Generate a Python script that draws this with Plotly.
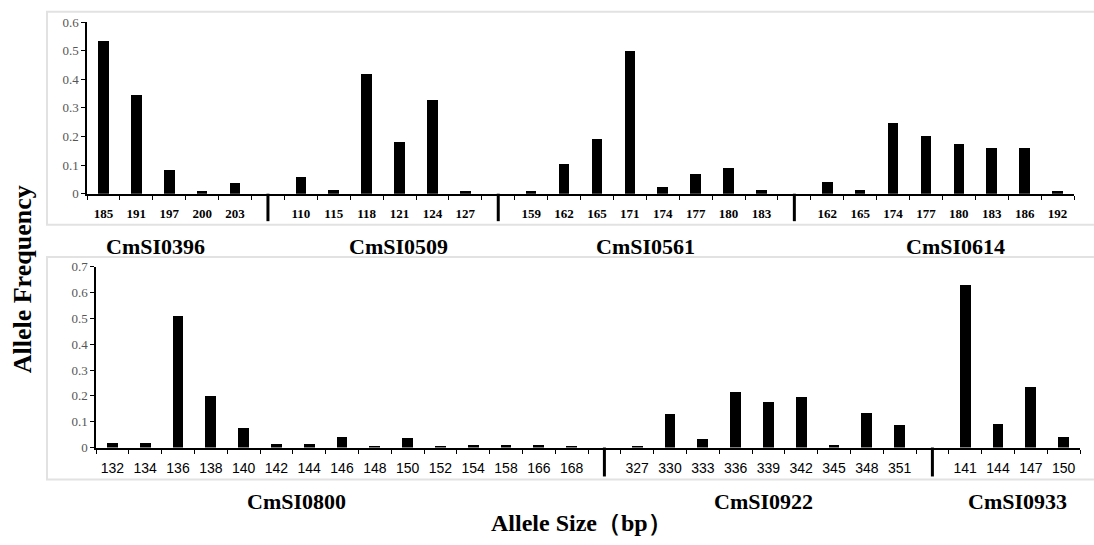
import plotly.graph_objects as go

# ---------------- data ----------------
loci_top = ["CmSI0396", "CmSI0509", "CmSI0561", "CmSI0614"]
sizes_0396 = ["185", "191", "197", "200", "203"]
freq_0396 = [0.532, 0.346, 0.084, 0.009, 0.036]
sizes_0509 = ["110", "115", "118", "121", "124", "127"]
freq_0509 = [0.057, 0.012, 0.419, 0.181, 0.327, 0.009]
sizes_0561 = ["159", "162", "165", "171", "174", "177", "180", "183"]
freq_0561 = [0.008, 0.105, 0.192, 0.498, 0.024, 0.069, 0.091, 0.012]
sizes_0614 = ["162", "165", "174", "177", "180", "183", "186", "192"]
freq_0614 = [0.042, 0.012, 0.247, 0.200, 0.174, 0.158, 0.160, 0.008]

loci_bottom = ["CmSI0800", "CmSI0922", "CmSI0933"]
sizes_0800 = ["132", "134", "136", "138", "140", "142", "144", "146", "148",
              "150", "152", "154", "158", "166", "168"]
freq_0800 = [0.020, 0.019, 0.511, 0.199, 0.076, 0.014, 0.014, 0.044, 0.008,
             0.038, 0.009, 0.010, 0.013, 0.010, 0.008]
sizes_0922 = ["327", "330", "333", "336", "339", "342", "345", "348", "351"]
freq_0922 = [0.006, 0.131, 0.034, 0.215, 0.177, 0.197, 0.010, 0.136, 0.088]
sizes_0933 = ["141", "144", "147", "150"]
freq_0933 = [0.629, 0.091, 0.235, 0.041]

y_title = "Allele Frequency"
x_title = "Allele Size（bp）"

W, H = 1094, 545
SERIF = "Liberation Serif, Times New Roman, serif"
SANS = "Liberation Sans, Arial, sans-serif"


def build(groups):
    """Lay groups out on one slot axis with one empty slot between groups."""
    xs, ys, tv, tt, seps = [], [], [], [], []
    pos = 0
    for gi, (sizes, freqs) in enumerate(groups):
        if gi > 0:
            seps.append(pos)
            pos += 1
        for s, f in zip(sizes, freqs):
            xs.append(pos)
            ys.append(f)
            tv.append(pos)
            tt.append(s)
            pos += 1
    return xs, ys, tv, tt, seps, pos


top = build([(sizes_0396, freq_0396), (sizes_0509, freq_0509),
             (sizes_0561, freq_0561), (sizes_0614, freq_0614)])
bot = build([(sizes_0800, freq_0800), (sizes_0922, freq_0922),
             (sizes_0933, freq_0933)])

fig = go.Figure()
fig.add_trace(go.Bar(x=top[0], y=top[1], width=0.32, marker=dict(color="black", line=dict(width=0)),
                     xaxis="x", yaxis="y", showlegend=False))
fig.add_trace(go.Bar(x=bot[0], y=bot[1], width=0.33, marker=dict(color="black", line=dict(width=0)),
                     xaxis="x2", yaxis="y2", showlegend=False))


def px_x(p):
    return p / W


def px_y(p):
    return 1 - p / H


def xaxis_cfg(res, domain, font):
    n = res[5]
    return dict(
        domain=domain, range=[-0.5, n - 0.5], tickmode="array",
        tickvals=res[2], ticktext=res[3], ticks="outside", ticklen=7,
        tickcolor="rgba(0,0,0,0)", tickfont=font,
        showline=True, linecolor="black", linewidth=2, showgrid=False,
        zeroline=False, fixedrange=True,
        minor=dict(tickmode="array", tickvals=[k + 0.5 for k in range(-1, n)],
                   ticks="outside", ticklen=4, tickwidth=1, tickcolor="black"),
    )


def yaxis_cfg(domain, rng, anchor):
    return dict(
        domain=domain, range=rng, dtick=0.1, tick0=0, ticks="outside", ticklen=4,
        tickcolor="black", tickwidth=1, showline=True, linecolor="black",
        linewidth=1.5, showgrid=False, zeroline=False, anchor=anchor,
        tickfont=dict(family=SERIF, size=13, color="#555555"), fixedrange=True,
    )


fig.update_layout(
    width=W, height=H, margin=dict(l=0, r=0, t=0, b=0),
    paper_bgcolor="white", plot_bgcolor="white", bargap=0,
    xaxis=xaxis_cfg(top, [px_x(87), px_x(1074)],
                    dict(family=SERIF, size=13, color="black", weight="bold")) | dict(anchor="y"),
    yaxis=yaxis_cfg([px_y(192), px_y(15.5)], [0, 0.6], "x"),
    xaxis2=xaxis_cfg(bot, [px_x(96), px_x(1080)],
                     dict(family=SANS, size=14, color="black")) | dict(anchor="y2"),
    yaxis2=yaxis_cfg([px_y(453), px_y(267)], [0, 0.7], "x2"),
)

shapes = []
# light panel frames
shapes.append(dict(type="rect", xref="paper", yref="paper", x0=px_x(47), x1=px_x(1100),
                   y0=px_y(224), y1=px_y(5), line=dict(color="#e2e2e2", width=2), layer="below"))
shapes.append(dict(type="rect", xref="paper", yref="paper", x0=px_x(47), x1=px_x(1100),
                   y0=px_y(486), y1=px_y(257), line=dict(color="#e2e2e2", width=2), layer="below"))
# group separators
for s in top[4]:
    shapes.append(dict(type="line", xref="x", yref="y domain", x0=s, x1=s, y0=0, y1=-0.16,
                       line=dict(color="black", width=3)))
for s in bot[4]:
    shapes.append(dict(type="line", xref="x2", yref="y2 domain", x0=s, x1=s, y0=0, y1=-0.16,
                       line=dict(color="black", width=3)))
fig.update_layout(shapes=shapes)

ann = []
top_label_px = [156, 398, 645, 956]
for name, xp in zip(loci_top, top_label_px):
    ann.append(dict(text=name, xref="paper", yref="paper", x=px_x(xp), y=px_y(246),
                    showarrow=False, xanchor="center", yanchor="middle",
                    font=dict(family=SERIF, size=22, color="black", weight="bold")))
bot_label_px = [296, 763, 1017]
for name, xp in zip(loci_bottom, bot_label_px):
    ann.append(dict(text=name, xref="paper", yref="paper", x=px_x(xp), y=px_y(508),
                    showarrow=False, xanchor="center", yanchor="middle",
                    font=dict(family=SERIF, size=22, color="black", weight="bold")))
ann.append(dict(text=x_title, xref="paper", yref="paper", x=px_x(582), y=px_y(531),
                showarrow=False, xanchor="center", yanchor="middle",
                font=dict(family=SERIF, size=24, color="black", weight="bold")))
ann.append(dict(text=y_title, xref="paper", yref="paper", x=px_x(22), y=px_y(280),
                showarrow=False, xanchor="center", yanchor="middle", textangle=-90,
                font=dict(family=SERIF, size=26, color="black", weight="bold")))
fig.update_layout(annotations=ann)

fig.write_html("out.html", config={"displayModeBar": False},
               post_script="document.body.style.margin='0';")
